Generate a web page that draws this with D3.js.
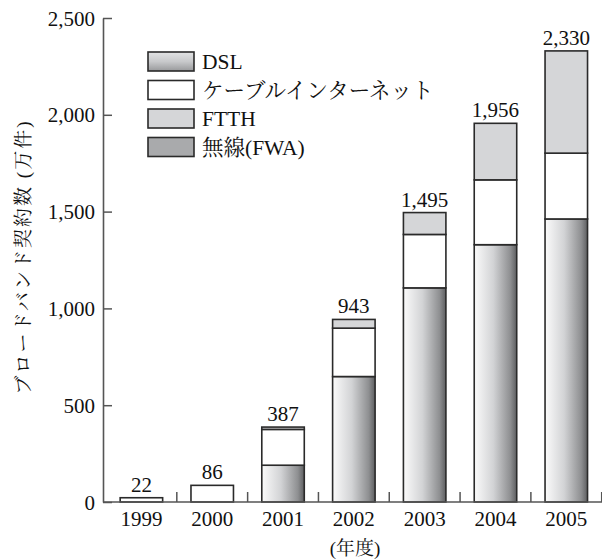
<!DOCTYPE html>
<html lang="ja">
<head>
<meta charset="utf-8">
<script src="https://cdn.jsdelivr.net/npm/d3@7"></script>
<style>
  html, body { margin: 0; padding: 0; background: #fff; }
  svg { display: block; }
  .num { font-family: "Liberation Serif", "Times New Roman", serif; font-size: 21px; fill: #111; }
  .jp { font-family: "Liberation Serif", "Noto Serif CJK JP", "Noto Sans CJK JP", serif; font-size: 20px; fill: #111; }
</style>
</head>
<body>
<svg id="chart" width="602" height="560"></svg>
<script>
// Broadband subscriptions in Japan by fiscal year (10,000 lines)
const years = ["1999", "2000", "2001", "2002", "2003", "2004", "2005"];
const dsl   = [0,   0, 190,  648, 1106, 1329, 1462];
const cable = [22, 86, 185,  250,  276,  335,  340];
const ftth  = [0,   0,  12,   45,  113,  292,  528];
const fwa   = [0,   0,   0,    0,    0,    0,    0];
const totals = ["22", "86", "387", "943", "1,495", "1,956", "2,330"];
const yTicks = [0, 500, 1000, 1500, 2000, 2500];

const seriesKeys = ["dsl", "cable", "ftth", "fwa"];
const seriesNames = ["DSL", "ケーブルインターネット", "FTTH", "無線(FWA)"];

const rows = years.map((yr, i) => ({
  year: yr, dsl: dsl[i], cable: cable[i], ftth: ftth[i], fwa: fwa[i], label: totals[i]
}));

const svg = d3.select("#chart");
const axisLeftX = 103, axisRightX = 602, baseY = 502, topY = 18;

const x = d3.scaleBand().domain(years).range([106, 601.7]).paddingInner(0.4).paddingOuter(0.2);
const y = d3.scaleLinear().domain([0, 2500]).range([baseY, topY]);

// gradients
const defs = svg.append("defs");
const gBar = defs.append("linearGradient").attr("id", "gBar")
  .attr("x1", "0%").attr("x2", "100%").attr("y1", "0%").attr("y2", "0%");
gBar.append("stop").attr("offset", "0%").attr("stop-color", "#fbfbfb");
gBar.append("stop").attr("offset", "45%").attr("stop-color", "#d2d3d5");
gBar.append("stop").attr("offset", "85%").attr("stop-color", "#8e8f91");
gBar.append("stop").attr("offset", "100%").attr("stop-color", "#5e5f61");

const gKey = defs.append("linearGradient").attr("id", "gKey")
  .attr("x1", "0%").attr("x2", "0%").attr("y1", "0%").attr("y2", "100%");
gKey.append("stop").attr("offset", "0%").attr("stop-color", "#e2e3e4");
gKey.append("stop").attr("offset", "50%").attr("stop-color", "#c8c9cb");
gKey.append("stop").attr("offset", "100%").attr("stop-color", "#98999b");

const barFill = { dsl: "url(#gBar)", cable: "#ffffff", ftth: "#d5d6d8", fwa: "#a9aaac" };
const keyFill = { dsl: "url(#gKey)", cable: "#ffffff", ftth: "#d5d6d8", fwa: "#a9aaac" };

// stacked bars
const stack = d3.stack().keys(seriesKeys)(rows);
const layers = svg.append("g").selectAll("g").data(stack).join("g")
  .attr("fill", d => barFill[d.key]);
layers.selectAll("rect")
  .data(d => d.filter(s => s[1] - s[0] > 0))
  .join("rect")
  .attr("x", d => x(d.data.year))
  .attr("width", x.bandwidth())
  .attr("y", d => y(d[1]))
  .attr("height", d => y(d[0]) - y(d[1]))
  .attr("stroke", "#2a2a2a")
  .attr("stroke-width", 1.6);

// total labels
svg.append("g").selectAll("text").data(rows).join("text")
  .attr("class", "num")
  .attr("x", d => x(d.year) + x.bandwidth() / 2)
  .attr("y", d => y(d.dsl + d.cable + d.ftth + d.fwa) - 6)
  .attr("text-anchor", "middle")
  .text(d => d.label);

// y axis
const yAxis = d3.axisLeft(y).tickValues(yTicks).tickSizeInner(-9).tickSizeOuter(0)
  .tickPadding(8).tickFormat(d3.format(","));
const gy = svg.append("g").attr("transform", `translate(${axisLeftX},0)`).call(yAxis);
gy.attr("font-size", null).attr("font-family", null);
gy.select(".domain").attr("stroke", "#555").attr("stroke-width", 1.6);
gy.selectAll(".tick line").attr("stroke", "#555").attr("stroke-width", 1.5);
gy.selectAll(".tick text").attr("class", "num").attr("x", -8).attr("dy", "0.34em");

// x axis: baseline, separators between categories, year labels
const step = x.step();
svg.append("line").attr("x1", axisLeftX).attr("x2", axisRightX).attr("y1", baseY).attr("y2", baseY)
  .attr("stroke", "#555").attr("stroke-width", 1.6);
svg.append("g").selectAll("line").data(years).join("line")
  .attr("x1", d => x(d) - x.paddingOuter() * step + step)
  .attr("x2", d => x(d) - x.paddingOuter() * step + step)
  .attr("y1", baseY).attr("y2", baseY - 10)
  .attr("stroke", "#555").attr("stroke-width", 1.5);
svg.append("g").selectAll("text").data(years).join("text")
  .attr("class", "num")
  .attr("x", d => x(d) + x.bandwidth() / 2)
  .attr("y", 526)
  .attr("text-anchor", "middle")
  .text(d => d);

svg.append("text").attr("class", "jp")
  .attr("x", 355).attr("y", 555).attr("text-anchor", "middle")
  .style("font-size", "19px")
  .text("(年度)");

svg.append("text").attr("class", "jp")
  .attr("transform", "translate(30,257) rotate(-90)")
  .attr("text-anchor", "middle")
  .style("font-size", "19px")
  .style("letter-spacing", "2px")
  .text("ブロードバンド契約数 (万件)");

// legend
const legend = svg.append("g").attr("transform", "translate(148,52)");
const items = legend.selectAll("g").data(seriesKeys).join("g")
  .attr("transform", (d, i) => `translate(0,${i * 28.5})`);
items.append("rect").attr("width", 46).attr("height", 19)
  .attr("fill", d => keyFill[d]).attr("stroke", "#2a2a2a").attr("stroke-width", 1.6);
items.append("text").attr("class", "jp")
  .attr("x", 54).attr("y", 9.5).attr("dy", "0.36em")
  .style("font-size", "21.5px")
  .text((d, i) => seriesNames[i]);
</script>
</body>
</html>
